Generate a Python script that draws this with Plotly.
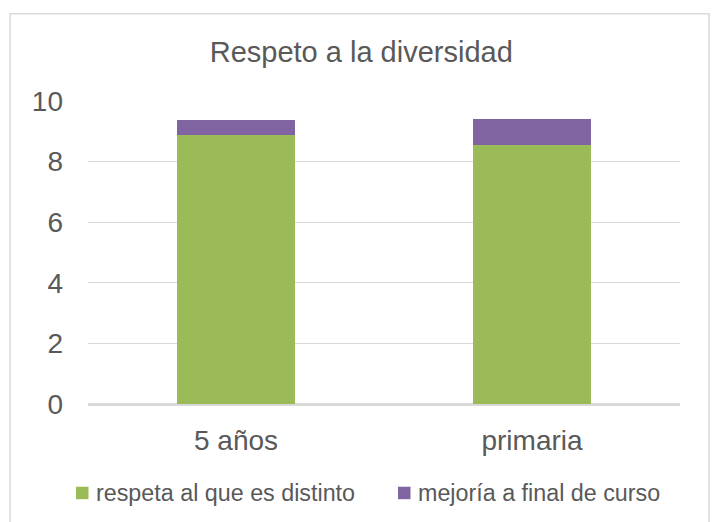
import plotly.graph_objects as go

# Datos del gráfico
categorias = ["5 años", "primaria"]
respeta = [8.87, 8.54]
mejoria = [0.49, 0.88]
nombres_series = ["respeta al que es distinto", "mejoría a final de curso"]
titulo = "Respeto a la diversidad"

VERDE = "#9BBB59"
MORADO = "#8064A2"
GRIS_TEXTO = "#595959"
GRIS_LINEA = "#D9D9D9"
FUENTE = "Liberation Sans, Arial, sans-serif"

# Área de trazado en píxeles (para ubicar marco y leyenda)
W, H = 714, 522
M_IZQ, M_DER, M_SUP, M_INF = 88, 34, 100.5, 117.5
ANCHO = W - M_IZQ - M_DER
ALTO = H - M_SUP - M_INF


def px_x(px):
    return (px - M_IZQ) / ANCHO


def px_y(py):
    return (H - M_INF - py) / ALTO


colores = [VERDE, MORADO]
series = [respeta, mejoria]

fig = go.Figure()
for nombre, valores, color in zip(nombres_series, series, colores):
    fig.add_trace(go.Bar(x=categorias, y=valores, name=nombre,
                         marker=dict(color=color, line=dict(width=0))))

# Marco exterior del gráfico
fig.add_shape(type="rect", xref="paper", yref="paper",
              x0=px_x(10), x1=px_x(709), y0=px_y(535), y1=px_y(13),
              line=dict(color=GRIS_LINEA, width=1.5), fillcolor="rgba(0,0,0,0)",
              layer="below")

# Leyenda inferior: cuadro de color + texto
leyenda_x = [76, 398]
for x0, nombre, color in zip(leyenda_x, nombres_series, colores):
    fig.add_shape(type="rect", xref="paper", yref="paper",
                  x0=px_x(x0), x1=px_x(x0 + 12.5), y0=px_y(500), y1=px_y(487.5),
                  line=dict(width=0), fillcolor=color)
    fig.add_annotation(xref="paper", yref="paper", x=px_x(x0 + 18), y=px_y(494),
                       xanchor="left", yanchor="middle", showarrow=False,
                       text=nombre, font=dict(size=23.3, color=GRIS_TEXTO, family=FUENTE))

fig.update_layout(
    width=W, height=H,
    margin=dict(l=M_IZQ, r=M_DER, t=M_SUP, b=M_INF, autoexpand=False),
    barmode="stack",
    bargap=0.6,
    showlegend=False,
    plot_bgcolor="white",
    paper_bgcolor="white",
    font=dict(family=FUENTE, color=GRIS_TEXTO),
    title=dict(text=titulo, xref="container", x=0.506, xanchor="center",
               yref="container", y=0.9, yanchor="middle",
               font=dict(size=29, color=GRIS_TEXTO, family=FUENTE)),
    xaxis=dict(showgrid=False, showline=True, linecolor=GRIS_LINEA, linewidth=1.5,
               tickfont=dict(size=28, color=GRIS_TEXTO), ticklabelstandoff=11,
               fixedrange=True),
    yaxis=dict(range=[0, 10], dtick=2, showgrid=True, gridcolor=GRIS_LINEA,
               gridwidth=1.3, zeroline=True, zerolinecolor=GRIS_LINEA,
               zerolinewidth=1.5, showline=False,
               tickfont=dict(size=28, color=GRIS_TEXTO), ticklabelstandoff=24,
               fixedrange=True),
)

fig.write_html("out.html")
